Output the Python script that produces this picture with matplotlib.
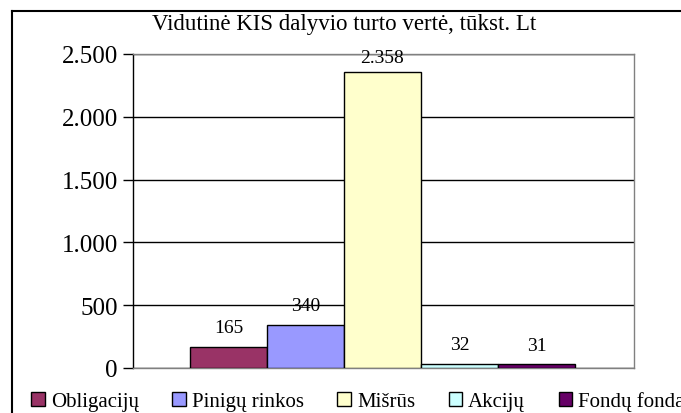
import matplotlib
matplotlib.use("Agg")
import matplotlib.pyplot as plt
from matplotlib.patches import Patch
from matplotlib.lines import Line2D

categories = ["Obligacijų", "Pinigų rinkos", "Mišrūs", "Akcijų", "Fondų fondai"]
values = [165, 340, 2358, 32, 31]
labels = ["165", "340", "2.358", "32", "31"]
colors = ["#993366", "#9999FF", "#FFFFCC", "#CCFFFF", "#660066"]
yticks = [0, 500, 1000, 1500, 2000, 2500]
yticklabels = ["0", "500", "1.000", "1.500", "2.000", "2.500"]
title = "Vidutinė KIS dalyvio turto vertė, tūkst. Lt"

plt.rcParams["font.family"] = ["Liberation Serif", "DejaVu Serif"]

W, H = 681, 414
fig = plt.figure(figsize=(W / 100, H / 100), dpi=100)

# outer chart border (clipped at right/bottom in reference)
fig.add_artist(Line2D([12 / W, 12 / W], [0, 1 - 12 / H], transform=fig.transFigure, color="black", lw=1.5))
fig.add_artist(Line2D([12 / W, 1], [1 - 12 / H, 1 - 12 / H], transform=fig.transFigure, color="black", lw=1.5))

ax = fig.add_axes([133 / W, (H - 369) / H, (634 - 133) / W, (369 - 55) / H])
x = list(range(len(categories)))
ax.bar(x, values, width=1.0, color=colors, edgecolor="black", linewidth=1.0, zorder=3)

ax.set_xlim(-1.24, 5.266)
ax.set_ylim(0, 2500)
ax.set_yticks(yticks)
ax.set_yticklabels(yticklabels, fontsize=18)
ax.set_xticks([])
ax.yaxis.grid(True, color="black", linewidth=1.0, zorder=0)
ax.tick_params(axis="y", direction="out", length=7, width=1, pad=4)
for s in ["top", "right", "bottom"]:
    ax.spines[s].set_color("#808080")
    ax.spines[s].set_linewidth(1.0)
ax.spines["left"].set_color("black")
ax.spines["left"].set_linewidth(1.0)

offsets = [11, 11, 7, 10.5, 10.5]
for xi, v, lab, off in zip(x, values, labels, offsets):
    ax.annotate(lab, (xi, v), xytext=(0, off), textcoords="offset points",
                ha="center", va="baseline", fontsize=14, zorder=4, annotation_clip=False)

fig.text(152 / W, 1 - 30 / H, title, ha="left", va="baseline", fontsize=16.5)

handles = [Patch(facecolor=c, edgecolor="black", linewidth=1.0) for c in colors]
fig.legend(handles, categories, loc="center left", bbox_to_anchor=(31 / W, 12 / H), ncol=5,
           frameon=False, fontsize=15, handlelength=0.65, handleheight=0.65, handletextpad=0.3,
           columnspacing=1.6, borderaxespad=0, borderpad=0)

fig.savefig("out.png", dpi=100)
